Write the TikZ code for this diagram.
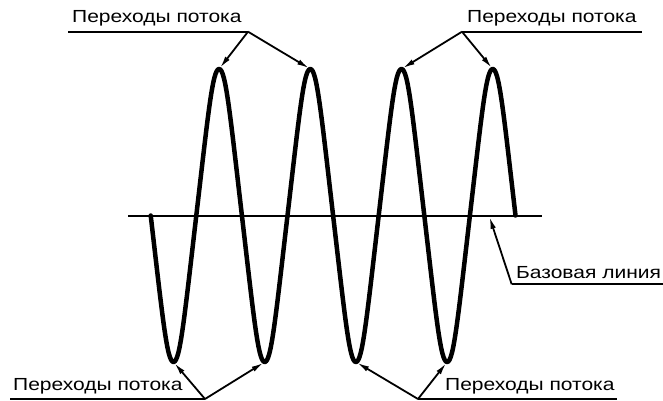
\documentclass[tikz,border=0pt]{standalone}
\usepackage{fontspec}
\setmainfont[FakeStretch=1.2]{Liberation Sans}
\usetikzlibrary{arrows.meta}
\tikzstyle{lbl}=[inner sep=0, anchor=base west, font=\fontsize{17.5}{20}\selectfont]
\tikzstyle{wave}=[line width=4.5pt, line join=round, line cap=round]
\tikzstyle{lead}=[line width=2pt]
\tikzstyle{ptr}=[line width=1.8pt, -{Latex[length=12pt,width=5.5pt]}, shorten >=1.5pt]

\begin{document}
\begin{tikzpicture}[x=1pt, y=-1pt]
\useasboundingbox (0,0) rectangle (663,401);
% baseline
\coordinate (b0) at (128,215.5);
\coordinate (b1) at (541.7,215.5);
\draw[lead] (b0) -- (b1);
% wave, one half period per step
\draw[wave] (150.7,215.5)
  \foreach \k [evaluate=\k as \xa using {150.7+45.6*\k+22.8},
               evaluate=\k as \sg using {1-2*mod(\k,2)}] in {0,...,7}
  { .. controls +(12,103*\sg) and +(-6.5,0) .. (\xa,215.5+146.5*\sg) coordinate (w\k)
    .. controls +(6.5,0) and +(-12,103*\sg) .. (\xa+22.8,215.5) };
% labels
\node[lbl] (tl) at (72,22.7) {Переходы потока};
\node[lbl] (tr) at (467,22.7) {Переходы потока};
\node[lbl] (bl) at (13,390.7) {Переходы потока};
\node[lbl] (br) at (445,390.7) {Переходы потока};
\node[lbl] (bs) at (516,278) {Базовая линия};
\coordinate (tl0) at (68,31.7);   \coordinate (tl1) at (248,31.7);
\coordinate (tr0) at (462,31.7);  \coordinate (tr1) at (642,31.7);
\coordinate (bl0) at (10,399);    \coordinate (bl1) at (205,399);
\coordinate (br0) at (418,399);   \coordinate (br1) at (617,399);
\coordinate (bs0) at (511.7,284.3); \coordinate (bs1) at (663,284.3);
\coordinate (bp) at (489,215.5);
\foreach \u in {tl,tr,bl,br,bs}
  \draw[lead] (\u0) -- (\u1);
% arrows
\draw[ptr] (tl1) -- (w1);
\draw[ptr] (tl1) -- (w3);
\draw[ptr] (tr0) -- (w5);
\draw[ptr] (tr0) -- (w7);
\draw[ptr] (bl1) -- (w0);
\draw[ptr] (bl1) -- (w2);
\draw[ptr] (br0) -- (w4);
\draw[ptr] (br0) -- (w6);
\draw[ptr] (bs0) -- (bp);
\end{tikzpicture}
\end{document}
